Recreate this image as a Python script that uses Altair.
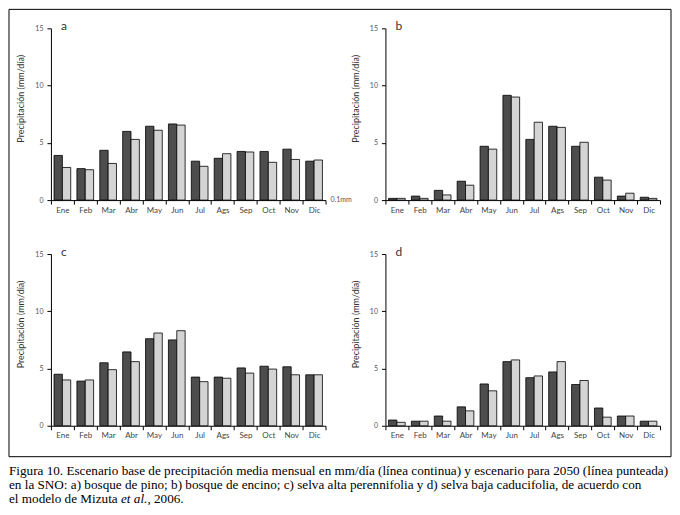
import altair as alt
import pandas as pd

months = ["Ene", "Feb", "Mar", "Abr", "May", "Jun", "Jul", "Ags", "Sep", "Oct", "Nov", "Dic"]
series = ["base", "2050"]

a_base = [3.9, 2.75, 4.35, 6.0, 6.45, 6.65, 3.4, 3.65, 4.25, 4.25, 4.45, 3.4]
a_2050 = [2.85, 2.65, 3.2, 5.3, 6.1, 6.55, 2.95, 4.05, 4.2, 3.3, 3.55, 3.5]
b_base = [0.15, 0.35, 0.85, 1.65, 4.7, 9.15, 5.3, 6.45, 4.7, 2.0, 0.35, 0.25]
b_2050 = [0.15, 0.15, 0.45, 1.3, 4.45, 9.0, 6.8, 6.35, 5.05, 1.75, 0.6, 0.15]
c_base = [4.5, 3.9, 5.5, 6.45, 7.6, 7.5, 4.25, 4.25, 5.05, 5.2, 5.15, 4.45]
c_2050 = [4.0, 4.0, 4.9, 5.6, 8.1, 8.3, 3.85, 4.15, 4.6, 4.95, 4.45, 4.45]
d_base = [0.5, 0.4, 0.85, 1.65, 3.65, 5.6, 4.2, 4.7, 3.6, 1.55, 0.85, 0.4]
d_2050 = [0.3, 0.4, 0.4, 1.3, 3.05, 5.75, 4.35, 5.6, 3.95, 0.75, 0.85, 0.4]

y_ticks = [0, 5, 10, 15]
y_title = "Precipitación (mm/día)"
letters = ["a", "b", "c", "d"]
note_text = "0.1mm"
caption_line1 = "Figura 10. Escenario base de precipitación media mensual en mm/día (línea continua) y escenario para 2050 (línea punteada)"
caption_line2 = "en la SNO: a) bosque de pino; b) bosque de encino; c) selva alta perennifolia y d) selva baja caducifolia, de acuerdo con"
caption_line3a = "el modelo de Mizuta "
caption_line3b = "et al."
caption_line3c = ", 2006."

SANS = "Lato"
SERIF = "Liberation Serif"
W, H = 275, 172
CAP = 13.2
LEFT = -42


def make_df(base, fut):
    rows = []
    for m, v in zip(months, base):
        rows.append({"mes": m, "serie": "base", "valor": v})
    for m, v in zip(months, fut):
        rows.append({"mes": m, "serie": "2050", "valor": v})
    return pd.DataFrame(rows)


def text_layer(txt, x, y, size, font, align="left", baseline="alphabetic", color="#222", style="normal"):
    return alt.Chart(pd.DataFrame({"t": [txt]})).mark_text(
        align=align, baseline=baseline, fontSize=size, font=font, color=color, fontStyle=style
    ).encode(x=alt.value(x), y=alt.value(y), text="t:N")


def panel(df, letter, extra_layers=()):
    bars = alt.Chart(df).mark_bar(stroke="black", strokeWidth=0.8).encode(
        x=alt.X("mes:N", sort=months,
                scale=alt.Scale(paddingInner=0, paddingOuter=0),
                axis=alt.Axis(title=None, labelAngle=0, tickBand="extent", tickSize=4,
                              labelFontSize=8, labelColor="#444", labelFont=SANS, labelPadding=2,
                              domainColor="black", tickColor="black", domainWidth=1, tickWidth=1)),
        xOffset=alt.XOffset("serie:N", sort=series,
                            scale=alt.Scale(paddingInner=0, paddingOuter=0.37)),
        y=alt.Y("valor:Q", scale=alt.Scale(domain=[0, 15], nice=False),
                axis=alt.Axis(values=y_ticks, title=y_title, grid=False, tickSize=4,
                              labelFontSize=7, labelColor="#555", labelFont=SANS, labelPadding=4,
                              domainColor="black", tickColor="black", domainWidth=1, tickWidth=1,
                              titleFont=SANS, titleFontSize=9, titleFontWeight="normal",
                              titleColor="#333", titleX=-25, titleY=70, titleAngle=-90,
                              titleAlign="center", titleBaseline="bottom")),
        color=alt.Color("serie:N", scale=alt.Scale(domain=series, range=["#4d4d4d", "#d4d4d4"]),
                        legend=None),
    )
    lab = text_layer(letter, 10, 2, 12, SANS, color="#333")
    return alt.layer(bars, lab, *extra_layers).properties(width=W, height=H)


border = alt.Chart(pd.DataFrame({"k": [1]})).mark_rect(
    fill="white", fillOpacity=0, stroke="black", strokeWidth=1
).encode(x=alt.value(LEFT), x2=alt.value(621), y=alt.value(-19), y2=alt.value(429))

note = text_layer(note_text, 280, 172, 7, SANS, baseline="middle", color="#555")

pa = panel(make_df(a_base, a_2050), letters[0], [border, note])
pb = panel(make_df(b_base, b_2050), letters[1])

cap1 = text_layer(caption_line1, LEFT, 221, CAP, SERIF, color="black")
cap2 = text_layer(caption_line2, LEFT, 235, CAP, SERIF, color="black")
cap3a = text_layer(caption_line3a, LEFT, 249, CAP, SERIF, color="black")
cap3b = text_layer(caption_line3b, LEFT + 8499 * CAP / 1000, 249, CAP, SERIF, color="black", style="italic")
cap3c = text_layer(caption_line3c, LEFT + 10499 * CAP / 1000, 249, CAP, SERIF, color="black")

pc = panel(make_df(c_base, c_2050), letters[2], [cap1, cap2, cap3a, cap3b, cap3c])
pd_ = panel(make_df(d_base, d_2050), letters[3])

chart = alt.concat(
    pa, pb, pc, pd_, columns=2, spacing={"row": 54, "column": 60}, bounds="flush"
).properties(padding={"left": 0, "top": 0, "right": 0, "bottom": 0}).configure_view(stroke=None)

chart.save("out.html", embed_options={"renderer": "svg", "actions": False})
